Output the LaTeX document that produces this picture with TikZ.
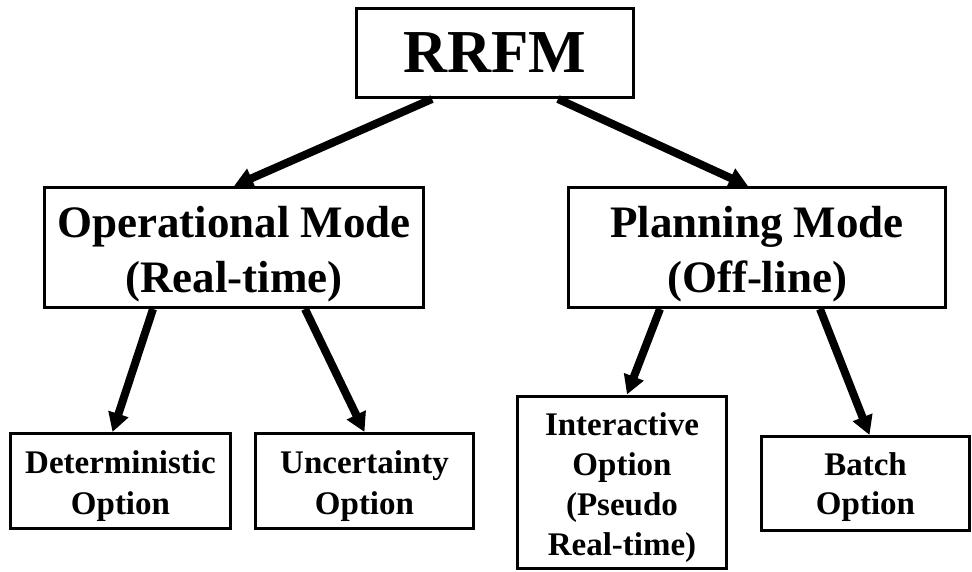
\documentclass[tikz,border=0pt]{standalone}
\usepackage{fontspec}
\setmainfont{Liberation Serif}
\usetikzlibrary{arrows.meta}
\newcommand{\topgap}[1]{\rule{0pt}{#1}}

\begin{document}
\begin{tikzpicture}[x=1pt, y=1pt, >={Triangle[length=19pt, width=20pt]},
    box/.style={draw, line width=3pt, inner sep=0pt, align=center},
    link/.style={->, line width=8pt}]
    \useasboundingbox (0,0) rectangle (972,-571);

    % Top node
    \node[box, minimum width=277pt, minimum height=89pt, font=\bfseries\fontsize{61}{70}\selectfont] (rrfm) at (495,-53) {RRFM};

    % Modes
    \node[box, minimum width=379pt, minimum height=120pt, font=\bfseries\fontsize{45}{55}\selectfont] (op) at (234,-247.5) {\topgap{45pt}Operational Mode\\(Real-time)};
    \node[box, minimum width=377pt, minimum height=120pt, font=\bfseries\fontsize{45}{55}\selectfont] (plan) at (757,-247.5) {\topgap{45pt}Planning Mode\\(Off-line)};

    % Options
    \node[box, minimum width=220pt, minimum height=95pt, font=\bfseries\fontsize{33}{41}\selectfont] (det) at (120.5,-481) {\topgap{33pt}Deterministic\\Option};
    \node[box, minimum width=218pt, minimum height=95pt, font=\bfseries\fontsize{33}{41}\selectfont] (unc) at (364.5,-481) {\topgap{33pt}Uncertainty\\Option};
    \node[box, minimum width=209pt, minimum height=172pt, font=\bfseries\fontsize{33}{40}\selectfont] (inter) at (622,-482) {\topgap{35pt}Interactive\\Option\\(Pseudo\\Real-time)};
    \node[box, minimum width=208pt, minimum height=94pt, font=\bfseries\fontsize{33}{39}\selectfont] (batch) at (865.5,-483.5) {\topgap{31pt}Batch\\Option};

    % Arrows
    \draw[link] ([xshift=-63pt]rrfm.south) -- (op.north);
    \draw[link] ([xshift=63pt]rrfm.south) -- ([xshift=-9pt]plan.north);
    \draw[link] ([xshift=-81pt]op.south) -- ([xshift=-8pt]det.north);
    \draw[link] ([xshift=71pt]op.south) -- (unc.north);
    \draw[link] ([xshift=-97pt]plan.south) -- ([xshift=5pt]inter.north);
    \draw[link] ([xshift=63pt]plan.south) -- ([xshift=4pt]batch.north);
\end{tikzpicture}
\end{document}
